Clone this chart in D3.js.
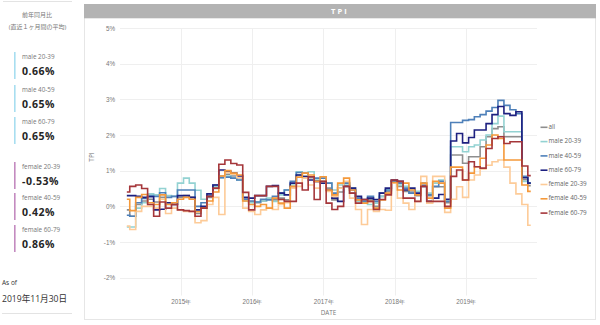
<!DOCTYPE html>
<html>
<head>
<meta charset="utf-8">
<script src="https://cdn.jsdelivr.net/npm/d3@7"></script>
<style>
  html, body { margin: 0; padding: 0; background: #fff; }
  svg { display: block; font-family: "Open Sans", "Noto Sans", "Noto Sans CJK JP", sans-serif; }
</style>
</head>
<body>
<script>
// Monthly observations (month-end)
const months = [
  "2014-03","2014-04","2014-05","2014-06","2014-07","2014-08","2014-09","2014-10","2014-11","2014-12",
  "2015-01","2015-02","2015-03","2015-04","2015-05","2015-06","2015-07","2015-08","2015-09","2015-10","2015-11","2015-12",
  "2016-01","2016-02","2016-03","2016-04","2016-05","2016-06","2016-07","2016-08","2016-09","2016-10","2016-11","2016-12",
  "2017-01","2017-02","2017-03","2017-04","2017-05","2017-06","2017-07","2017-08","2017-09","2017-10","2017-11","2017-12",
  "2018-01","2018-02","2018-03","2018-04","2018-05","2018-06","2018-07","2018-08","2018-09","2018-10","2018-11","2018-12",
  "2019-01","2019-02","2019-03","2019-04","2019-05","2019-06","2019-07","2019-08","2019-09","2019-10","2019-11"
];

// Year-over-year change, % (trailing one-month average)
const tpiAll = [
  -0.10,-0.28,0.05,0.15,0.20,0.12,0.25,0.10,0.05,0.25,
  0.30,0.25,-0.20,-0.05,0.25,0.50,0.85,0.90,0.85,0.80,
  0.20,0.12,0.10,0.15,0.20,0.18,0.23,0.18,0.55,0.88,
  0.85,0.80,0.70,0.70,0.51,0.18,0.40,0.65,0.37,0.18,
  0.14,0.18,0.00,0.28,0.42,0.70,0.56,0.42,0.40,0.30,
  0.60,0.30,0.55,0.55,0.10,1.44,1.44,1.21,1.39,1.39,
  1.67,1.95,2.18,2.23,1.95,1.95,1.95,0.75,0.58
];
const tpiMale2039 = [
  -0.58,-0.58,-0.05,0.10,0.35,0.32,0.50,0.30,0.28,0.65,
  0.79,0.65,0.45,0.20,0.30,0.55,0.80,0.85,0.79,0.74,
  0.15,0.10,0.12,0.15,0.23,0.14,0.32,0.46,0.60,0.97,
  0.83,0.97,0.74,0.70,0.65,0.46,0.60,0.60,0.51,0.14,
  0.09,0.05,0.09,0.28,0.46,0.65,0.60,0.56,0.46,0.42,
  0.56,0.37,0.65,0.74,0.18,1.67,1.67,1.53,1.67,1.72,
  1.86,2.00,2.32,2.53,2.09,2.09,2.09,0.70,0.66
];
const tpiMale4059 = [
  -0.25,-0.28,0.10,0.22,0.30,0.28,0.38,0.25,0.28,0.46,
  0.46,0.46,0.00,0.10,0.30,0.60,0.80,0.82,0.79,0.74,
  0.20,0.15,0.12,0.20,0.18,0.28,0.37,0.46,0.70,0.95,
  0.93,0.83,0.79,0.79,0.65,0.37,0.51,0.65,0.46,0.23,
  0.14,0.28,0.14,0.37,0.46,0.70,0.65,0.51,0.37,0.32,
  0.65,0.32,0.56,0.70,0.14,2.35,2.35,2.41,2.43,2.51,
  2.57,2.67,2.77,2.97,2.83,2.71,2.60,0.84,0.65
];
const tpiMale6079 = [
  0.30,0.30,0.28,0.25,0.27,-0.10,-0.08,0.10,0.05,0.30,
  0.30,0.25,-0.10,0.00,0.35,0.60,1.02,0.98,0.93,0.85,
  0.25,0.23,0.30,0.30,0.56,0.58,0.37,0.32,0.65,0.88,
  0.83,0.74,0.70,0.65,0.46,0.23,0.14,0.56,0.51,0.28,
  0.19,0.23,0.19,0.37,0.51,0.74,0.70,0.46,0.51,0.37,
  0.56,0.14,0.23,0.33,0.20,1.83,2.04,1.78,1.93,2.14,
  2.14,2.32,2.57,2.80,2.60,2.55,2.65,0.80,0.65
];
const tpiFemale2039 = [
  -0.55,-0.65,-0.14,0.00,0.00,-0.05,0.20,-0.20,-0.05,-0.10,
  -0.14,-0.14,-0.46,-0.40,0.05,0.25,-0.23,0.95,0.90,0.80,
  -0.05,-0.14,-0.23,-0.10,-0.05,-0.09,0.05,0.10,0.51,0.56,
  0.79,0.60,0.51,0.70,0.42,0.28,0.51,0.70,0.23,-0.09,
  -0.51,-0.09,-0.14,-0.09,-0.11,0.65,0.23,0.09,-0.09,0.14,
  0.84,0.09,0.84,0.84,-0.17,0.20,0.55,0.25,0.74,0.88,
  1.05,1.15,1.25,1.30,1.10,0.65,0.35,0.05,-0.53
];
const tpiFemale4059 = [
  0.20,-0.12,0.25,0.33,0.10,0.05,0.32,0.05,0.10,0.20,
  0.25,0.20,-0.15,-0.05,0.15,0.40,0.85,1.00,0.93,0.88,
  0.15,0.05,0.00,0.05,-0.05,0.23,0.09,-0.05,0.56,0.82,
  0.93,0.88,0.70,0.83,0.46,0.32,0.65,0.79,0.46,0.18,
  0.09,0.14,-0.05,0.18,0.37,0.67,0.46,0.65,0.46,0.32,
  0.65,0.23,0.70,0.65,-0.05,1.10,1.10,0.74,0.93,1.11,
  1.35,1.72,2.00,1.90,1.30,1.30,1.30,0.60,0.42
];
const tpiFemale6079 = [
  0.40,0.56,0.60,0.50,0.05,-0.28,0.12,-0.05,0.05,-0.10,
  -0.12,-0.14,-0.28,-0.05,0.28,0.51,1.18,1.30,1.20,1.16,
  0.39,-0.10,0.30,0.30,0.56,0.56,0.19,0.14,0.14,0.65,
  0.46,0.83,0.19,0.70,0.09,-0.09,0.00,0.56,0.37,0.09,
  0.19,0.14,-0.09,0.19,0.32,0.74,0.70,0.23,0.23,0.14,
  0.56,0.14,0.14,0.14,0.00,0.84,1.02,0.74,1.25,1.11,
  1.07,1.62,1.90,1.95,1.76,1.81,1.81,1.13,0.86
];

const seriesNames = ["all","male 20-39","male 40-59","male 60-79","female 20-39","female 40-59","female 60-79"];
const seriesValues = [tpiAll, tpiMale2039, tpiMale4059, tpiMale6079, tpiFemale2039, tpiFemale4059, tpiFemale6079];
const seriesColors = ["#8e8e8e","#93d2d2","#4e80b9","#1d2080","#fdcb98","#f5993a","#a5363a"];

const yTickValues = [-2,-1,0,1,2,3,4,5];
const yearTicks = ["2015","2016","2017","2018","2019"];
const asOfDate = "2019年11月30日";

// ---------- drawing ----------
const W = 600, H = 325;
const svg = d3.select("body").append("svg").attr("width", W).attr("height", H);

const parseMonth = d3.timeParse("%Y-%m");
const monthEnd = m => d3.timeDay.offset(d3.timeMonth.offset(parseMonth(m), 1), -1);
const dates = months.map(monthEnd);

const x = d3.scaleTime()
  .domain([new Date(2014, 1, 24), new Date(2020, 0, 1)])
  .range([120, 537]);
const y = d3.scaleLinear().domain([-2.5, 5]).range([295.5, 28]);

// Plain hyphen for negative numbers
const locale = d3.formatLocale({ decimal: ".", thousands: ",", grouping: [3], currency: ["", ""], minus: "-" });
const fmt = locale.format(".2f");

// Left panel: latest values per segment
const left = svg.append("g");
left.append("line").attr("x1", 3).attr("x2", 72).attr("y1", 1.5).attr("y2", 1.5)
  .attr("stroke", "#e3e3e3").attr("stroke-width", 1);
left.append("text").attr("x", 37).attr("y", 15).attr("text-anchor", "middle")
  .attr("dominant-baseline", "middle").attr("font-size", 6).attr("fill", "#777")
  .text("前年同月比");
left.append("text").attr("x", 37.5).attr("y", 27.5).attr("text-anchor", "middle")
  .attr("dominant-baseline", "middle").attr("font-size", 6).attr("fill", "#777")
  .text("(直近１ヶ月間の平均)");

const cardTops = [52, 85, 117, 162, 193, 225];
const cardColors = ["#a8def0","#a8def0","#a8def0","#c48bc0","#c48bc0","#c48bc0"];
seriesNames.slice(1).forEach((name, k) => {
  const vals = seriesValues[k + 1];
  const top = cardTops[k];
  const g = left.append("g");
  g.append("rect").attr("x", 14).attr("y", top).attr("width", 1.6).attr("height", 27)
    .attr("fill", cardColors[k]);
  g.append("text").attr("x", 22).attr("y", top + 5.5).attr("dominant-baseline", "middle")
    .attr("font-size", 6.3).attr("fill", "#777").text(name);
  g.append("text").attr("x", 22).attr("y", top + 20.5).attr("dominant-baseline", "middle")
    .attr("font-size", 10.5).attr("font-weight", "bold").attr("letter-spacing", 0.5)
    .attr("fill", "#252525").text(fmt(vals[vals.length - 1]) + "%");
});

left.append("text").attr("x", 2).attr("y", 283).attr("dominant-baseline", "middle")
  .attr("font-size", 6.5).attr("fill", "#333").text("As of");
left.append("text").attr("x", 2).attr("y", 299.5).attr("dominant-baseline", "middle")
  .attr("font-size", 8.6).attr("fill", "#333").text(asOfDate);
left.append("line").attr("x1", 2).attr("x2", 72).attr("y1", 313.5).attr("y2", 313.5)
  .attr("stroke", "#e3e3e3").attr("stroke-width", 1);

// Chart panel frame and header
svg.append("rect").attr("x", 84.5).attr("y", 4.5).attr("width", 511).attr("height", 315)
  .attr("fill", "#fff").attr("stroke", "#e6e6e6");
svg.append("rect").attr("x", 84).attr("y", 4).attr("width", 512).attr("height", 14.3)
  .attr("fill", "#b3b3b3");
svg.append("text").attr("x", 340).attr("y", 11.5).attr("text-anchor", "middle")
  .attr("dominant-baseline", "middle").attr("font-size", 7.5).attr("font-weight", "bold")
  .attr("fill", "#fff").attr("letter-spacing", 2.2).text("TPI");

// Gridlines
const grid = svg.append("g");
grid.selectAll("line.h").data(yTickValues).join("line")
  .attr("x1", 120).attr("x2", 537)
  .attr("y1", d => Math.round(y(d)) + 0.5).attr("y2", d => Math.round(y(d)) + 0.5)
  .attr("stroke", "#efefef");
const yearDates = yearTicks.map(t => new Date(+t, 0, 1));
grid.selectAll("line.v").data(yearDates).join("line")
  .attr("x1", d => Math.round(x(d)) + 0.5).attr("x2", d => Math.round(x(d)) + 0.5)
  .attr("y1", 28).attr("y2", 295.5)
  .attr("stroke", "#efefef");

// Axes (labels only)
const yAxis = svg.append("g").attr("transform", "translate(115,0)")
  .call(d3.axisLeft(y).tickValues(yTickValues).tickSize(0).tickPadding(0).tickFormat(d => d + "%"));
yAxis.select(".domain").remove();
yAxis.selectAll("text").attr("font-size", 6.3).attr("fill", "#777").attr("font-family", null);

const xAxis = svg.append("g").attr("transform", "translate(0,300)")
  .call(d3.axisBottom(x).tickValues(yearDates).tickSize(0).tickPadding(0)
    .tickFormat(d => d3.timeFormat("%Y")(d) + "年"));
xAxis.select(".domain").remove();
xAxis.selectAll("text").attr("font-size", 6.3).attr("fill", "#777").attr("font-family", null);

svg.append("text").attr("x", 328.5).attr("y", 313.5).attr("text-anchor", "middle")
  .attr("dominant-baseline", "middle").attr("font-size", 6.3).attr("fill", "#777").text("DATE");
svg.append("text").attr("transform", "translate(92.5,157) rotate(-90)")
  .attr("text-anchor", "middle").attr("dominant-baseline", "middle")
  .attr("font-size", 6.5).attr("fill", "#777").text("TPI");

// Step lines
const line = d3.line()
  .x((d, i) => x(dates[i]))
  .y(d => y(d))
  .curve(d3.curveStep);
svg.append("g").selectAll("path").data(seriesValues).join("path")
  .attr("d", d => line(d))
  .attr("fill", "none")
  .attr("stroke", (d, i) => seriesColors[i])
  .attr("stroke-width", 1.6)
  .attr("stroke-linejoin", "miter");

// Legend
const legend = svg.append("g");
seriesNames.forEach((name, i) => {
  const ly = 127.3 + i * 14.3;
  legend.append("line").attr("x1", 540.5).attr("x2", 547.5).attr("y1", ly).attr("y2", ly)
    .attr("stroke", seriesColors[i]).attr("stroke-width", 1.6);
  legend.append("text").attr("x", 548.5).attr("y", ly).attr("dominant-baseline", "middle")
    .attr("font-size", 6.3).attr("fill", "#666").text(name);
});
</script>
</body>
</html>
